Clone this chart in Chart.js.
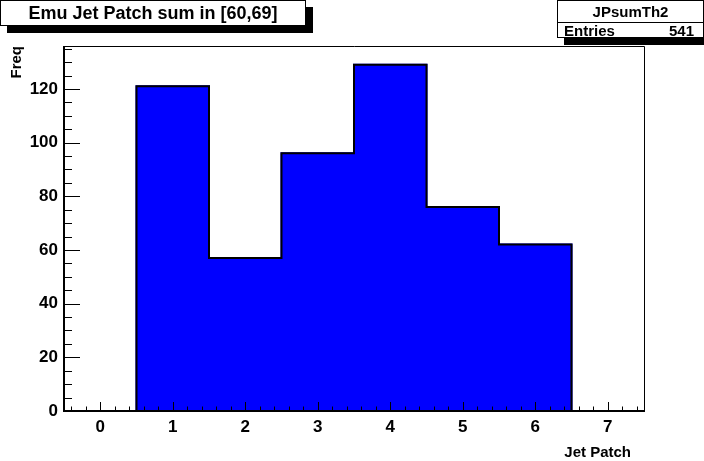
<!DOCTYPE html>
<html>
<head>
<meta charset="utf-8">
<script src="https://cdn.jsdelivr.net/npm/chart.js@4.4.0/dist/chart.umd.min.js"></script>
<style>
body { margin: 0; background: #fff; }
#wrap { position: relative; width: 704px; height: 461px; font-family: "Liberation Sans", Arial, sans-serif; font-weight: bold; color: #000; }
canvas { position: absolute; left: 0; top: 0; }
.box { position: absolute; background: #fff; border: 1px solid #000; box-shadow: 7px 7px 0 #000; box-sizing: border-box; }
#title { left: 0; top: 0; width: 306px; height: 26px; font-size: 18px; line-height: 24px; text-align: center; }
#stats { left: 557px; top: 0; width: 147px; height: 38px; font-size: 15px; }
#stats .name { height: 21px; line-height: 21px; text-align: center; border-bottom: 1px solid #000; }
#stats .row { height: 15px; line-height: 15px; padding: 0 9px 0 6px; display: flex; justify-content: space-between; }
</style>
</head>
<body>
<div id="wrap">
	<canvas id="chart" width="704" height="461"></canvas>
	<div class="box" id="title">Emu Jet Patch sum in [60,69]</div>
	<div class="box" id="stats">
		<div class="name">JPsumTh2</div>
		<div class="row"><span>Entries</span><span>541</span></div>
	</div>
</div>
<script>
// histogram JPsumTh2 : one bin per jet patch
const binCenters = [1, 2, 3, 4, 5, 6];
const counts = [121, 57, 96, 129, 76, 62];
const xTicks = [0, 1, 2, 3, 4, 5, 6, 7];
const yTicks = [0, 20, 40, 60, 80, 100, 120];

const xMin = -0.5, xMax = 7.5;
const yMin = 0, yMax = 136;

// step outline of the histogram (bin edges)
const outline = [{ x: binCenters[0] - 0.5, y: 0 }];
binCenters.forEach(function (c, i) {
	outline.push({ x: c - 0.5, y: counts[i] });
});
outline.push({ x: binCenters[binCenters.length - 1] + 0.5, y: 0 });

const font = { family: '"Liberation Sans", Arial, sans-serif', weight: 'bold', size: 17 };

// ROOT style frame, inward ticks and axis titles
const rootFrame = {
	id: 'rootFrame',
	afterDraw(chart) {
		const ctx = chart.ctx;
		const a = chart.chartArea;
		const x = chart.scales.x;
		const y = chart.scales.y;
		ctx.save();
		ctx.strokeStyle = '#000';

		ctx.lineWidth = 1;
		ctx.beginPath();
		ctx.moveTo(a.left, a.top + 0.5);
		ctx.lineTo(a.right + 0.5, a.top + 0.5);
		ctx.lineTo(a.right + 0.5, a.bottom);
		ctx.stroke();

		ctx.lineWidth = 2;
		ctx.beginPath();
		ctx.moveTo(a.left, a.top);
		ctx.lineTo(a.left, a.bottom);
		ctx.lineTo(a.right + 1, a.bottom);
		ctx.stroke();

		ctx.lineWidth = 1;
		ctx.beginPath();
		for (let k = Math.ceil(xMin / 0.2); k <= Math.floor(xMax / 0.2); k++) {
			const px = Math.round(x.getPixelForValue(k * 0.2)) + 0.5;
			const len = k % 5 === 0 ? 9 : 4.5;
			ctx.moveTo(px, a.bottom);
			ctx.lineTo(px, a.bottom - len);
		}
		for (let v = yMin; v <= yMax; v += 5) {
			const py = Math.round(y.getPixelForValue(v)) + 0.5;
			const len = v % 20 === 0 ? 16 : 8;
			ctx.moveTo(a.left, py);
			ctx.lineTo(a.left + len, py);
		}
		ctx.stroke();

		ctx.fillStyle = '#000';
		ctx.font = 'bold 15px "Liberation Sans", Arial, sans-serif';
		ctx.textAlign = 'right';
		ctx.textBaseline = 'alphabetic';
		ctx.fillText('Jet Patch', 631, 457);

		ctx.translate(21, a.top);
		ctx.rotate(-Math.PI / 2);
		ctx.fillText('Freq', 0, 0);
		ctx.restore();
	}
};

new Chart(document.getElementById('chart'), {
	type: 'bar',
	data: {
		datasets: [{
			type: 'line',
			data: outline,
			stepped: 'before',
			borderColor: '#000',
			borderWidth: 2,
			pointRadius: 0,
			fill: false,
			order: 0
		}, {
			data: counts.map(function (c, i) { return { x: binCenters[i], y: c }; }),
			backgroundColor: '#0000ff',
			borderWidth: 0,
			inflateAmount: 1,
			categoryPercentage: 1,
			barPercentage: 1,
			order: 1
		}]
	},
	options: {
		responsive: false,
		animation: false,
		devicePixelRatio: 1,
		layout: { padding: { top: 46, right: 60, left: 0, bottom: 0 } },
		plugins: { legend: { display: false }, tooltip: { enabled: false } },
		scales: {
			x: {
				type: 'linear',
				min: xMin,
				max: xMax,
				offset: false,
				grid: { display: false, drawTicks: false },
				border: { display: false },
				ticks: { color: '#000', font: font, padding: 6, maxRotation: 0 },
				afterBuildTicks: function (s) { s.ticks = xTicks.map(function (v) { return { value: v }; }); },
				afterFit: function (s) { s.height = 50; }
			},
			y: {
				min: yMin,
				max: yMax,
				grid: { display: false, drawTicks: false },
				border: { display: false },
				ticks: { color: '#000', font: font, padding: 6 },
				afterBuildTicks: function (s) { s.ticks = yTicks.map(function (v) { return { value: v }; }); },
				afterFit: function (s) { s.width = 64; }
			}
		}
	},
	plugins: [rootFrame]
});
</script>
</body>
</html>
